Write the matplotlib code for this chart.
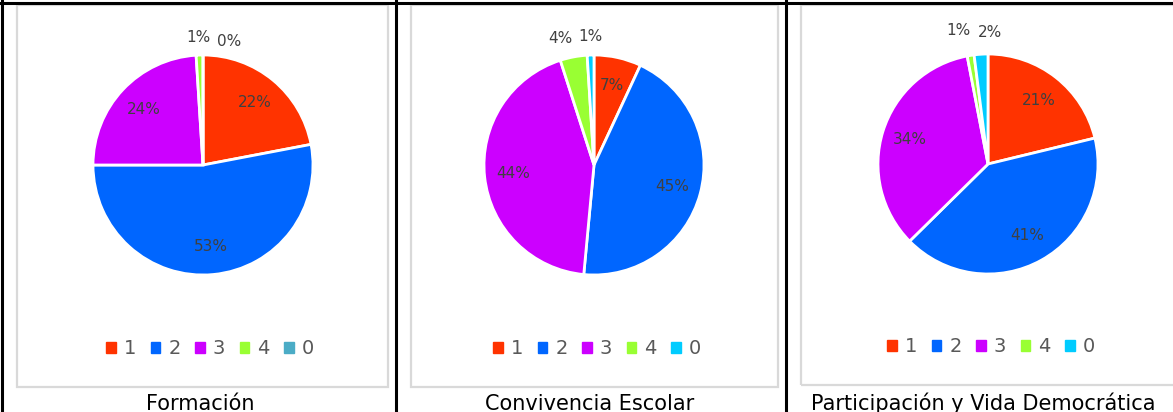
import matplotlib.pyplot as plt
import numpy as np
from matplotlib.lines import Line2D
from matplotlib.patches import Rectangle

categories = ["1", "2", "3", "4", "0"]
titles = ["Formación", "Convivencia Escolar", "Participación y Vida Democrática"]
formacion = [22, 53, 24, 1, 0]
convivencia = [7, 45, 44, 4, 1]
participacion = [21, 41, 34, 1, 2]
series = [formacion, convivencia, participacion]

colors_a = ["#FF3300", "#0066FF", "#CC00FF", "#99FF33", "#4BACC6"]
colors_b = ["#FF3300", "#0066FF", "#CC00FF", "#99FF33", "#00CCFF"]
palettes = [colors_a, colors_b, colors_b]

W, H = 1173, 412
fig = plt.figure(figsize=(W / 100, H / 100), dpi=100)
plt.rcParams['font.family'] = ['DejaVu Sans']


def fx(px):
    return px / W


def fy(py):
    return 1 - py / H


# table borders (black)
for x in [1.5, 395.5, 785.5]:
    fig.add_artist(Line2D([fx(x), fx(x)], [0, fy(1)], color="black", lw=2.2))
fig.add_artist(Line2D([0, 1], [fy(2.5), fy(2.5)], color="black", lw=2.2))

# chart boxes (light gray)
boxes = [(17, 4.5, 388, 387), (411, 4.5, 778, 387), (801, 4.5, 1190, 385)]
for x0, y0, x1, y1 in boxes:
    fig.add_artist(Rectangle((fx(x0), fy(y1)), fx(x1 - x0), (y1 - y0) / H,
                             fill=False, ec="#D9D9D9", lw=1.6))

centers = [(203, 165), (594, 165), (988, 164)]
radius = 110
half = 150
# small outside labels: sideways nudge (px) and distance (x radius)
small_shift = [(-1, 26), (-10, 0), (-8, 10)]
small_r = [(1.16, 1.12), (1.17, 1.17), (1.23, 1.2)]
legend_pos = [(210, 349), (597, 349), (991, 347)]
caption_x = [200, 590, 983]

for i, vals in enumerate(series):
    cx, cy = centers[i]
    ax = fig.add_axes([fx(cx - half), fy(cy + half), 2 * half / W, 2 * half / H])
    wedges, _ = ax.pie(vals, colors=palettes[i], startangle=90, counterclock=False,
                       wedgeprops=dict(edgecolor="white", linewidth=2))
    lim = half / radius
    ax.set_xlim(-lim, lim)
    ax.set_ylim(-lim, lim)
    ax.axis("off")

    k = 0
    for w, v in zip(wedges, vals):
        th = np.deg2rad((w.theta1 + w.theta2) / 2)
        if v >= 5:
            r = 0.74
            ax.text(r * np.cos(th), r * np.sin(th), "%d%%" % v, ha="center", va="center",
                    fontsize=11, color="#404040")
        else:
            r = small_r[i][k]
            dx = small_shift[i][k] / radius
            ax.text(r * np.cos(th) + dx, r * np.sin(th), "%d%%" % v, ha="center",
                    va="center", fontsize=11, color="#404040")
            k += 1

    handles = [Rectangle((0, 0), 1, 1, color=c) for c in palettes[i]]
    lx, ly = legend_pos[i]
    fig.legend(handles, categories, loc="center", bbox_to_anchor=(fx(lx), fy(ly)),
               ncol=5, frameon=False, fontsize=14, labelcolor="#595959",
               handlelength=0.5, handleheight=0.5, handletextpad=0.4,
               columnspacing=0.75)

    fig.text(fx(caption_x[i]), fy(410), titles[i], ha="center", va="baseline",
             fontsize=15, color="black")

fig.savefig("out.png", dpi=100)
